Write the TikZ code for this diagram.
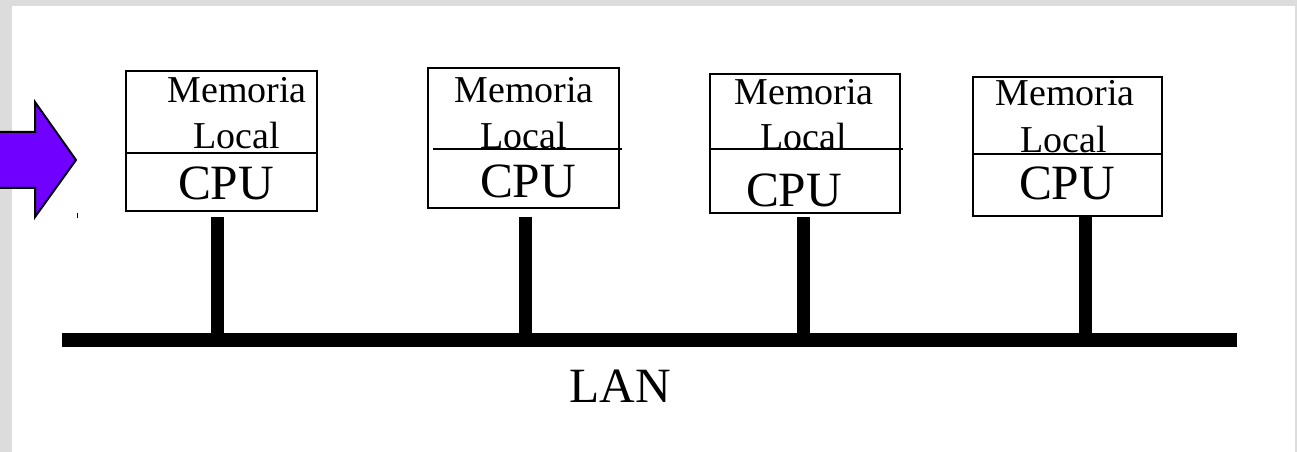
\documentclass[tikz,border=0pt]{standalone}
\usepackage{fontspec}
\setmainfont{Liberation Serif}
\usetikzlibrary{fit}
\definecolor{arrowviolet}{RGB}{112,0,255}
\definecolor{marble}{RGB}{220,220,220}
\tikzset{
  cpubox/.style={draw=black, line width=1.5pt, inner sep=0pt, fill=white},
  divider/.style={draw=black, line width=1.5pt},
  memtext/.style={inner sep=0pt, anchor=base, font=\fontsize{28.5pt}{30pt}\selectfont},
  cputext/.style={inner sep=0pt, anchor=base, font=\fontsize{37pt}{40pt}\selectfont},
  lantext/.style={inner sep=0pt, anchor=base, font=\fontsize{37pt}{40pt}\selectfont},
  stem/.style={draw=black, line width=9.75pt},
  busline/.style={draw=black, line width=10.5pt},
}
\begin{document}
\begin{tikzpicture}[x=0.75pt, y=-0.75pt]
% page with its grey frame on the left, top and right
\useasboundingbox (0,0) rectangle (1297,452);
\fill[marble] (0,0) rectangle (1297,452);
\fill[white] (12,6.5) rectangle (1294.5,452);

% violet arrow entering from the left
\fill[arrowviolet] (0,132) -- (35,132) -- (35,102) -- (76,160) -- (35,217) -- (35,188) -- (0,188) -- cycle;
\draw[black, line width=1.5pt, line join=miter] (0,132) -- (35,132) -- (35,102) -- (76,160) -- (35,217) -- (35,188) -- (0,188);
\draw[black, line width=0.75pt] (77,213.5) -- (77,218);

% corner points of the four computer frames
\coordinate (b1nw) at (126,71);  \coordinate (b1se) at (317,211);
\coordinate (b2nw) at (428,68);  \coordinate (b2se) at (619,208);
\coordinate (b3nw) at (710,74);  \coordinate (b3se) at (900,213);
\coordinate (b4nw) at (973,77);  \coordinate (b4se) at (1162,216);

\node[cpubox, fit=(b1nw)(b1se)] (box1) {};
\node[cpubox, fit=(b2nw)(b2se)] (box2) {};
\node[cpubox, fit=(b3nw)(b3se)] (box3) {};
\node[cpubox, fit=(b4nw)(b4se)] (box4) {};

% dividers between memory and CPU
\draw[divider] (126,153) -- (317,153);
\draw[divider] (433,149) -- (622,149);
\draw[divider] (710,149) -- (903,149);
\draw[divider] (973,154) -- (1162,154);

% labels
\node[memtext] (mem1) at (237,103) {Memoria};
\node[memtext] (loc1) at (236.5,149) {Local};
\node[cputext] (cpu1) at (226,200) {CPU};

\node[memtext] (mem2) at (524,103) {Memoria};
\node[memtext] (loc2) at (524,149) {Local};
\node[cputext] (cpu2) at (528,198) {CPU};

\node[memtext] (mem3) at (804,105) {Memoria};
\node[memtext] (loc3) at (804,150) {Local};
\node[cputext] (cpu3) at (794,207) {CPU};

\node[memtext] (mem4) at (1065,106) {Memoria};
\node[memtext] (loc4) at (1064,153) {Local};
\node[cputext] (cpu4) at (1067,200) {CPU};

% bus and the taps of each computer
\coordinate (busL) at (62,340);
\coordinate (busR) at (1237,340);
\coordinate (t1) at (217.5,217);  \coordinate (j1) at (217.5,340);
\coordinate (t2) at (525,217);    \coordinate (j2) at (525,340);
\coordinate (t3) at (803,217);    \coordinate (j3) at (803,340);
\coordinate (t4) at (1085,216);   \coordinate (j4) at (1085,340);

\draw[stem] (t1) -- (j1);
\draw[stem] (t2) -- (j2);
\draw[stem] (t3) -- (j3);
\draw[stem] (t4) -- (j4);
\draw[busline] (busL) -- (busR);

\node[lantext] (lan) at (620,403) {LAN};
\end{tikzpicture}
\end{document}
